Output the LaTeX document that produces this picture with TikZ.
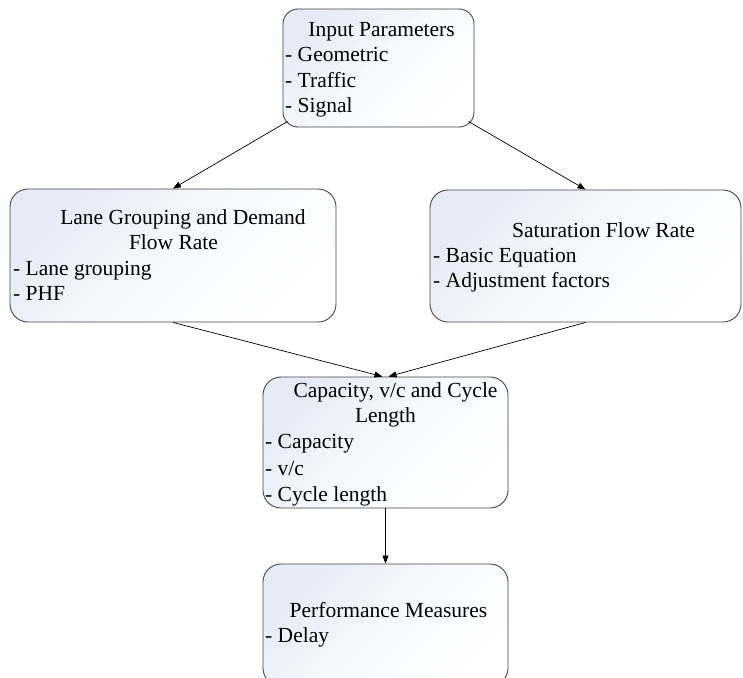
\documentclass[tikz,border=0pt]{standalone}
\usepackage{fontspec}
\setmainfont{Liberation Serif}
\usetikzlibrary{calc,arrows.meta}
\definecolor{boxshade}{RGB}{230,235,247}
\definecolor{boxline}{RGB}{70,70,70}
\tikzset{
  box/.style={draw=boxline, line width=0.9pt, rounded corners=18pt,
    top color=boxshade, bottom color=white, middle color=white!70!boxshade, shading angle=45,
    rectangle, inner sep=0pt},
  txt/.style={inner sep=0pt, font=\fontsize{21.5}{25.5}\selectfont},
  ttl/.style={txt, anchor=base},
  lst/.style={txt, anchor=base west},
  conn/.style={-{Triangle[length=8pt,width=6pt]}, line width=0.7pt, black}
}
\begin{document}
\begin{tikzpicture}[x=1pt,y=-1pt]
\clip (0,0) rectangle (743,677);
\fill[white] (0,0) rectangle (743,677);

\node[box, minimum width=191pt, minimum height=118pt, rounded corners=15pt] (inp) at (378.5,68) {};
\node[box, minimum width=326pt, minimum height=133pt] (lane) at (173,255.5) {};
\node[box, minimum width=311pt, minimum height=132pt] (sat) at (585.5,256) {};
\node[box, minimum width=245pt, minimum height=131pt] (cap) at (385.5,442.5) {};
\node[box, minimum width=245pt, minimum height=122pt] (perf) at (385.5,625) {};

\node[ttl] (inpT) at (381.5,37) {Input Parameters};
\node[lst] (inpL1) at (285,62) {- Geometric};
\node[lst] (inpL2) at (285,87) {- Traffic};
\node[lst] (inpL3) at (285,112) {- Signal};

\node[ttl] (laneT1) at (183,224) {Lane Grouping and Demand};
\node[ttl] (laneT2) at (173.5,249.5) {Flow Rate};
\node[lst] (laneL1) at (13,275) {- Lane grouping};
\node[lst] (laneL2) at (13,300) {- PHF};

\node[ttl] (satT) at (603.5,237) {Saturation Flow Rate};
\node[lst] (satL1) at (433,262.5) {- Basic Equation};
\node[lst] (satL2) at (433,287.5) {- Adjustment factors};

\node[ttl] (capT1) at (395.5,397) {Capacity, v/c and Cycle};
\node[ttl] (capT2) at (385.5,422.5) {Length};
\node[lst] (capL1) at (265,448.5) {- Capacity};
\node[lst] (capL2) at (265,475) {- v/c};
\node[lst] (capL3) at (265,501) {- Cycle length};

\node[ttl] (perfT) at (388.5,617) {Performance Measures};
\node[lst] (perfL1) at (265,642.5) {- Delay};

\draw[conn] ($(inp.south west)+(5,-6)$) -- (lane.north);
\draw[conn] ($(inp.south east)+(-6,-6)$) -- (sat.north);
\draw[conn] (lane.south) -- ($(cap.north)+(-3,0)$);
\draw[conn] (sat.south) -- ($(cap.north)+(3,0)$);
\draw[conn] (cap.south) -- (perf.north);
\end{tikzpicture}
\end{document}
